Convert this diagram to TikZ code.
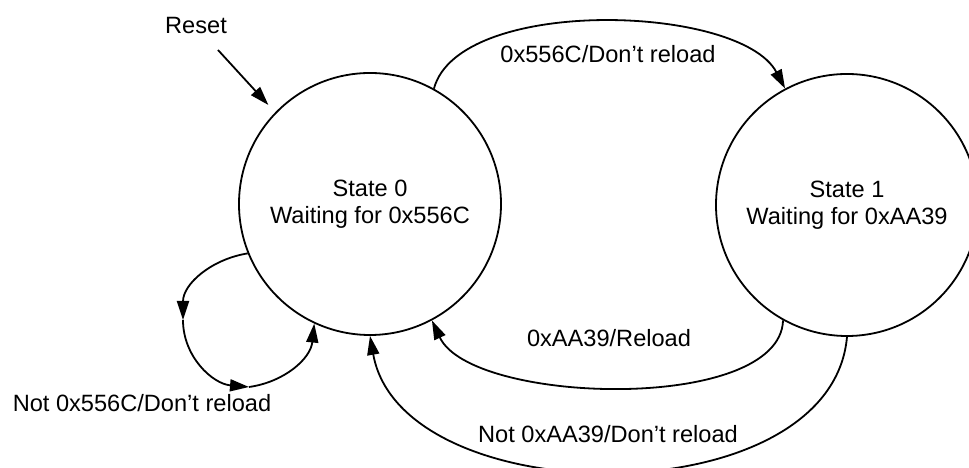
\documentclass[tikz,border=0pt]{standalone}
\usepackage{fontspec}
\setmainfont{Liberation Sans}
\usetikzlibrary{arrows.meta,positioning}

\tikzset{
  state/.style={circle, draw, line width=.9bp, minimum size=131bp, inner sep=0pt, align=center},
  trans/.style={line width=.9bp, -{Triangle[length=9.5bp,width=6bp]}},
  lbl/.style={inner sep=0pt, anchor=base}
}

\begin{document}
\begin{tikzpicture}[x=.5bp, y=-.5bp, font=\fontsize{11.8bp}{13.5bp}\selectfont]
      \useasboundingbox (0,0) rectangle (969,468);

      \node[state] (s0) at (370,204) {State 0\\Waiting for 0x556C};
      \node[state] (s1) at (847,205) {State 1\\Waiting for 0xAA39};

      \coordinate (rst) at (218,50);
      \coordinate (lpa) at (183,320);
      \coordinate (lpb) at (249,387);

      \node[lbl] (reset) at (196,34) {Reset};
      \node[lbl] (go) at (608,63) {0x556C/Don’t reload};
      \node[lbl] (stay0) at (142,412) {Not 0x556C/Don’t reload};
      \node[lbl] (back) at (609,347) {0xAA39/Reload};
      \node[lbl] (stay1) at (608,443) {Not 0xAA39/Don’t reload};

      \draw[trans, shorten >=5bp] (rst)--(s0.136);
      \draw[trans] (s0.61.5) to[out=75,in=118,looseness=.7] (s1.118.5);

      % self loop of state 0
      \draw[trans] (s0.202.7) to[out=189,in=90] (lpa);
      \draw[trans] (lpa) to[out=270,in=175] (lpb);
      \draw[trans] (lpb) to[out=8,in=264] (s0.245.6);

      \draw[trans] (s1.241.9) to[out=268,in=295,looseness=.68] (s0.298.2);
      \draw[trans] (s1.270) to[out=265,in=280,looseness=.97] (s0.270);
    \end{tikzpicture}
\end{document}
